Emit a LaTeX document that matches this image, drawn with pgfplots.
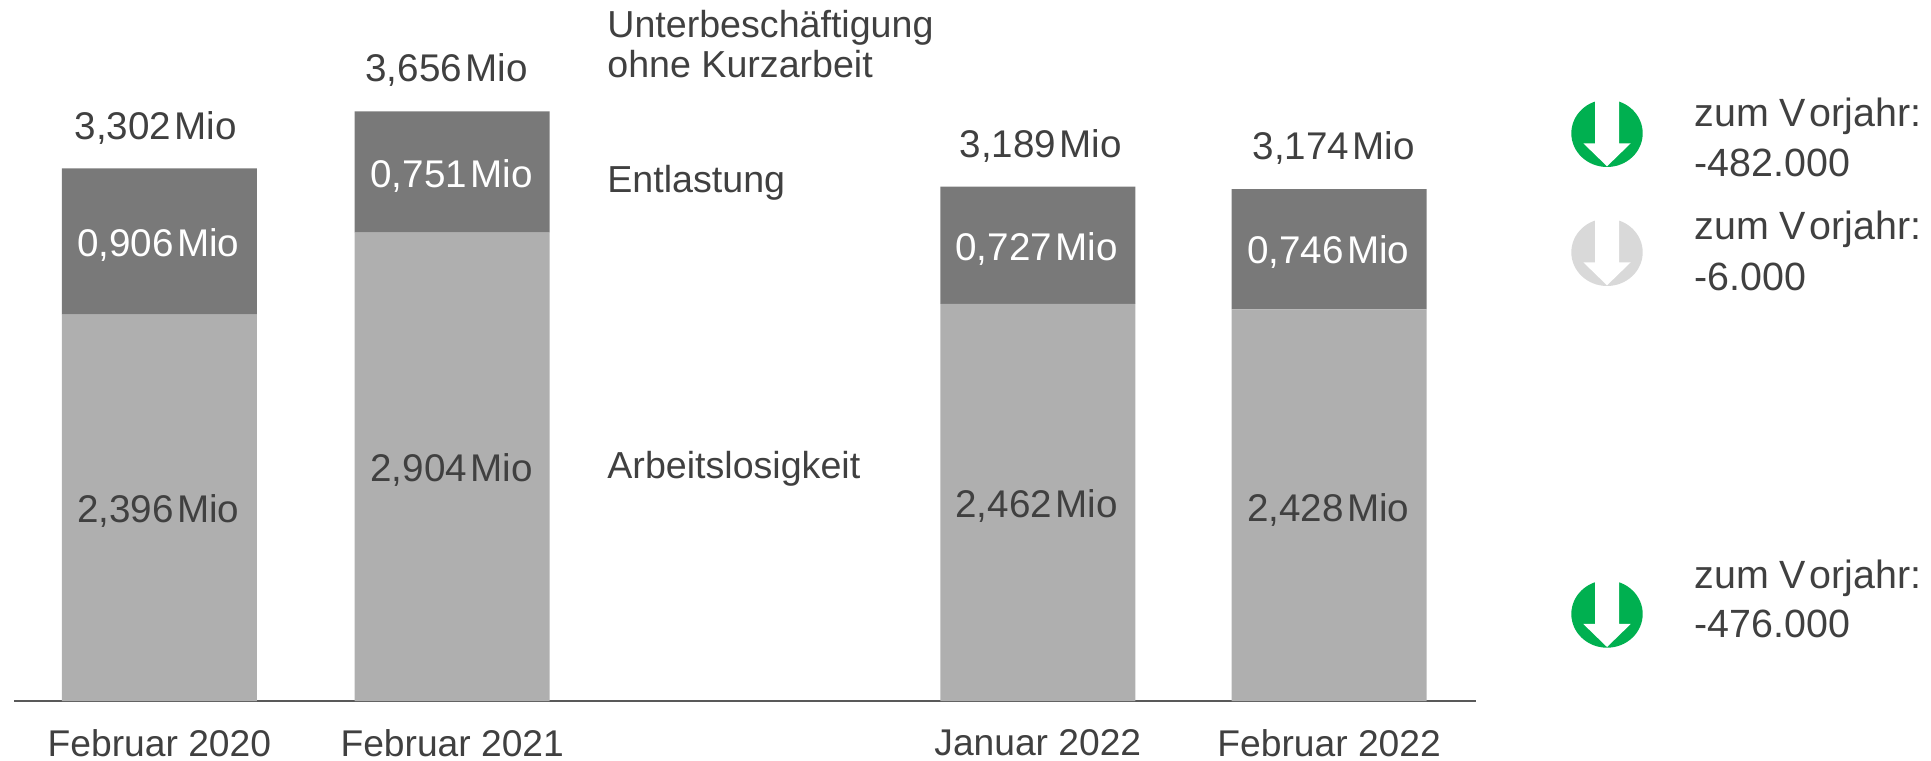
\documentclass[border=0pt]{standalone}
\usepackage{pgfplots}
\pgfplotsset{compat=1.18}
\usepackage{fontspec}
\setmainfont{Liberation Sans}
\definecolor{txt}{HTML}{404040}
\definecolor{lightbar}{HTML}{AFAFAF}
\definecolor{darkbar}{HTML}{797979}
\definecolor{upg}{HTML}{00B050}
\definecolor{neutral}{HTML}{D9D9D9}
\newcommand{\icon}[3]{% x y colour, in pixels
  \fill[#3] (#1,#2) ellipse [x radius=35.7, y radius=33.7];
  \fill[white] (#1-12,#2-38) -- (#1+12,#2-38) -- (#1+12,#2+10) -- (#1+23.7,#2+10) -- (#1,#2+33) -- (#1-23.7,#2+10) -- (#1-12,#2+10) -- cycle;
}
\newcommand{\zv}{zum\hspace{0.27em}V\hspace{0.1em}orjahr:}
\newcommand{\M}{\hspace{0.09em}Mio}
\begin{document}
\begin{tikzpicture}
\path[use as bounding box] (0,0) rectangle (965.5pt,380pt);
\begin{axis}[
  at={(7pt,29.5pt)}, anchor=south west,
  x=146.4pt, y=80.65pt,
  xmin=-0.4966, xmax=4.4966, ymin=0, ymax=4.2,
  ybar stacked, bar width=97.5pt,
  axis x line=bottom, axis y line=none,
  axis line style={draw=black!65, line width=1.2pt, -},
  xtick={0,1,3,3.995},
  xticklabels={Februar 2020,Februar 2021,Januar 2022,Februar 2022},
  xtick style={draw=none},
  x tick label style={font=\fontsize{18.6}{22}\selectfont, text=txt, yshift=-8.4pt},
  clip=false,
]
\addplot[fill=lightbar, draw=none] coordinates {(0,2.396) (1,2.904) (3,2.462) (3.995,2.428)};
\addplot[fill=darkbar, draw=none] coordinates {(0,0.906) (1,0.751) (3,0.727) (3.995,0.746)};
\coordinate (a1) at (axis cs:-0.004,1.179);
\coordinate (a2) at (axis cs:0.998,1.431);
\coordinate (a3) at (axis cs:2.996,1.210);
\coordinate (a4) at (axis cs:3.992,1.187);
\coordinate (b1) at (axis cs:-0.004,2.828);
\coordinate (b2) at (axis cs:0.998,3.255);
\coordinate (b3) at (axis cs:2.996,2.805);
\coordinate (b4) at (axis cs:3.992,2.784);
\coordinate (c1) at (axis cs:-0.0126,3.552);
\coordinate (c2) at (axis cs:0.981,3.914);
\coordinate (c3) at (axis cs:3.0105,3.44);
\coordinate (c4) at (axis cs:4.0105,3.431);
\end{axis}
\tikzset{v/.style={font=\fontsize{19.3}{22}\selectfont, text=txt, inner sep=0pt}, w/.style={v, text=white}}
\node[v] at (a1) {2,396\M};
\node[v] at (a2) {2,904\M};
\node[v] at (a3) {2,462\M};
\node[v] at (a4) {2,428\M};
\node[w] at (b1) {0,906\M};
\node[w] at (b2) {0,751\M};
\node[w] at (b3) {0,727\M};
\node[w] at (b4) {0,746\M};
\node[v] at (c1) {3,302\M};
\node[v] at (c2) {3,656\M};
\node[v] at (c3) {3,189\M};
\node[v] at (c4) {3,174\M};
\begin{scope}[x=0.5pt,y=-0.5pt,yshift=380pt]
\tikzset{t/.style={font=\fontsize{18.8}{22}\selectfont, text=txt, inner sep=0pt, anchor=base west},
 r/.style={t,font=\fontsize{19.7}{22}\selectfont}}
\node[t] at (607,37.5) {Unterbeschäftigung};
\node[t] at (607,78) {ohne Kurzarbeit};
\node[t] at (607,193) {Entlastung};
\node[t] at (607,479) {Arbeitslosigkeit};
\icon{1607}{133.3}{upg}
\icon{1607}{252.3}{neutral}
\icon{1607}{614}{upg}
\node[r] at (1694,126.5) {\zv};
\node[r] at (1694,177) {-482.000};
\node[r] at (1694,239.5) {\zv};
\node[r] at (1694,291) {-6.000};
\node[r] at (1694,588.5) {\zv};
\node[r] at (1694,638) {-476.000};
\end{scope}
\end{tikzpicture}
\end{document}
